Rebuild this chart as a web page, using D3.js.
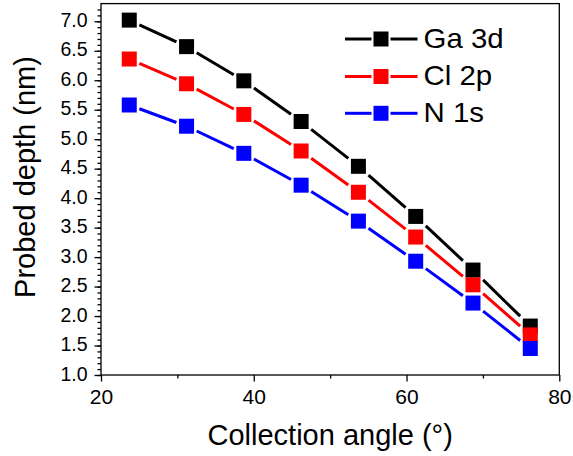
<!DOCTYPE html>
<html>
<head>
<meta charset="utf-8">
<script src="https://cdn.jsdelivr.net/npm/d3@7"></script>
<style>
  html, body { margin: 0; padding: 0; background: #fff; }
  svg { display: block; }
  text { font-family: "Liberation Sans", Arial, sans-serif; fill: #000; }
</style>
</head>
<body>
<svg id="chart" width="573" height="456"></svg>
<script>
// ---- data ----
const angles = [23.7, 31.2, 38.7, 46.2, 53.7, 61.2, 68.7, 76.2];
const ga3d = [7.02, 6.57, 5.99, 5.30, 4.54, 3.69, 2.78, 1.83];
const cl2p = [6.36, 5.94, 5.42, 4.80, 4.10, 3.34, 2.53, 1.68];
const n1s  = [5.58, 5.22, 4.76, 4.22, 3.61, 2.93, 2.22, 1.45];
const seriesNames = ["Ga 3d", "Cl 2p", "N 1s"];
const seriesColors = ["#000000", "#ff0000", "#0000ff"];
const xMajorTicks = [20, 40, 60, 80];
const xMinorTicks = [30, 50, 70];
const yMajorTicks = [1.0, 1.5, 2.0, 2.5, 3.0, 3.5, 4.0, 4.5, 5.0, 5.5, 6.0, 6.5, 7.0];
const yMinorTicks = d3.range(10, 73).map(v => v / 10);
const xTitle = "Collection angle (°)";
const yTitle = "Probed depth (nm)";

const seriesValues = [ga3d, cl2p, n1s];

// ---- layout ----
const svg = d3.select("#chart");
const pLeft = 101, pRight = 559.3, pTop = 3.6, pBottom = 375;
const x = d3.scaleLinear().domain([20, 80]).range([pLeft, pRight]);
const y = d3.scaleLinear().domain([1, 7.3]).range([pBottom, pTop]);

// frame
svg.append("rect")
  .attr("x", pLeft).attr("y", pTop)
  .attr("width", pRight - pLeft).attr("height", pBottom - pTop)
  .attr("fill", "none").attr("stroke", "#000").attr("stroke-width", 1.3);

// axes
const gx = svg.append("g").attr("transform", `translate(0,${pBottom})`);
gx.call(d3.axisBottom(x).tickValues(xMinorTicks).tickSize(3.5).tickFormat(""));
gx.select(".domain").remove();
const gx2 = svg.append("g").attr("transform", `translate(0,${pBottom})`);
gx2.call(d3.axisBottom(x).tickValues(xMajorTicks).tickSize(6.5).tickFormat(d3.format("d")));
gx2.select(".domain").remove();
gx2.selectAll("text").attr("y", 29).attr("dy", 0)
  .style("font-size", "21px").style("font-family", '"Liberation Sans", Arial, sans-serif');

const gy = svg.append("g").attr("transform", `translate(${pLeft},0)`);
gy.call(d3.axisLeft(y).tickValues(yMinorTicks).tickSize(3.5).tickFormat(""));
gy.select(".domain").remove();
const gy2 = svg.append("g").attr("transform", `translate(${pLeft},0)`);
gy2.call(d3.axisLeft(y).tickValues(yMajorTicks).tickSize(6.5).tickPadding(7).tickFormat(d3.format(".1f")));
gy2.select(".domain").remove();
gy2.selectAll("text").attr("dy", 5)
  .style("font-size", "19.5px").style("font-family", '"Liberation Sans", Arial, sans-serif');

svg.selectAll(".tick line").attr("stroke", "#000").attr("stroke-width", 1.3);

// titles
svg.append("text")
  .attr("x", (pLeft + pRight) / 2).attr("y", 445)
  .attr("text-anchor", "middle")
  .style("font-size", "29px")
  .text(xTitle);
svg.append("text")
  .attr("transform", `translate(35,177) rotate(-90)`)
  .attr("text-anchor", "middle")
  .style("font-size", "29px")
  .text(yTitle);

// series
const ms = 15, gap = 2.6;
function trimmedSegments(pts, h) {
  const segs = [];
  for (let i = 0; i < pts.length - 1; i++) {
    const [x0, y0] = pts[i], [x1, y1] = pts[i + 1];
    const dx = x1 - x0, dy = y1 - y0, L = Math.hypot(dx, dy);
    const ux = dx / L, uy = dy / L;
    const t = h / Math.max(Math.abs(ux), Math.abs(uy));
    if (L > 2 * t) segs.push([x0 + ux * t, y0 + uy * t, x1 - ux * t, y1 - uy * t]);
  }
  return segs;
}

seriesValues.forEach((vals, si) => {
  const pts = vals.map((v, i) => [x(angles[i]), y(v)]);
  const g = svg.append("g");
  g.selectAll("line").data(trimmedSegments(pts, ms / 2 + gap)).join("line")
    .attr("x1", d => d[0]).attr("y1", d => d[1])
    .attr("x2", d => d[2]).attr("y2", d => d[3])
    .attr("stroke", seriesColors[si]).attr("stroke-width", 3)
    .attr("stroke-linecap", "butt");
});
seriesValues.forEach((vals, si) => {
  svg.append("g").selectAll("rect").data(vals).join("rect")
    .attr("x", (v, i) => x(angles[i]) - ms / 2)
    .attr("y", v => y(v) - ms / 2)
    .attr("width", ms).attr("height", ms)
    .attr("fill", seriesColors[si]);
});

// legend
const lg = svg.append("g");
const legX0 = 345, legX1 = 417.5, legMid = 381, legMs = 15, legRowY = [39, 76.5, 113.3];
seriesNames.forEach((name, si) => {
  const cy = legRowY[si];
  lg.append("line").attr("x1", legX0).attr("x2", legMid - legMs / 2 - 2)
    .attr("y1", cy).attr("y2", cy).attr("stroke", seriesColors[si]).attr("stroke-width", 3);
  lg.append("line").attr("x1", legMid + legMs / 2 + 2).attr("x2", legX1)
    .attr("y1", cy).attr("y2", cy).attr("stroke", seriesColors[si]).attr("stroke-width", 3);
  lg.append("rect").attr("x", legMid - legMs / 2).attr("y", cy - legMs / 2)
    .attr("width", legMs).attr("height", legMs).attr("fill", seriesColors[si]);
  lg.append("text")
    .attr("transform", `translate(423.5,${cy + 8.8}) scale(1.09,1)`)
    .style("font-size", "27px").text(name);
});
</script>
</body>
</html>
